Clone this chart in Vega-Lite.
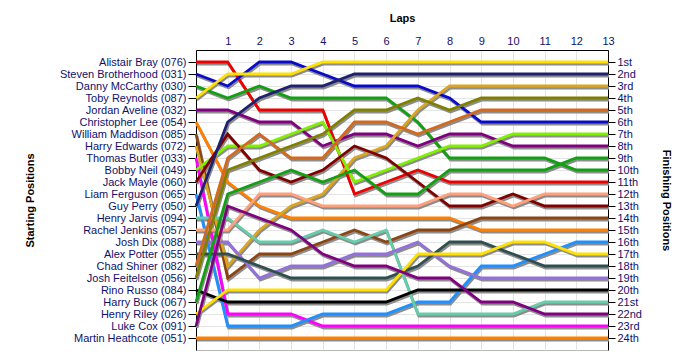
{
"$schema":"https://vega.github.io/schema/vega-lite/v6.json",
"width":412,"height":300,
"autosize":"none",
"padding":{"left":196,"top":50,"right":92,"bottom":10},
"background":"white",
"config":{"view":{"stroke":"#b8b8b8"},"font":"Liberation Sans",
 "axis":{"domainColor":"black","tickColor":"black","labelFontSize":11,"labelColor":"#10106a","titleFontSize":11,"titleFontWeight":"bold","titleColor":"black","gridColor":"#e4e4e4"}},
"datasets":{"race":[
{"driver":"Alistair Bray (076)","lap":0,"pos":1},{"driver":"Alistair Bray (076)","lap":1,"pos":1},{"driver":"Alistair Bray (076)","lap":2,"pos":5},{"driver":"Alistair Bray (076)","lap":3,"pos":5},{"driver":"Alistair Bray (076)","lap":4,"pos":5},{"driver":"Alistair Bray (076)","lap":5,"pos":12},{"driver":"Alistair Bray (076)","lap":6,"pos":11},{"driver":"Alistair Bray (076)","lap":7,"pos":10},{"driver":"Alistair Bray (076)","lap":8,"pos":11},{"driver":"Alistair Bray (076)","lap":9,"pos":11},{"driver":"Alistair Bray (076)","lap":10,"pos":11},{"driver":"Alistair Bray (076)","lap":11,"pos":11},{"driver":"Alistair Bray (076)","lap":12,"pos":11},{"driver":"Alistair Bray (076)","lap":13,"pos":11},
{"driver":"Steven Brotherhood (031)","lap":0,"pos":2},{"driver":"Steven Brotherhood (031)","lap":1,"pos":3},{"driver":"Steven Brotherhood (031)","lap":2,"pos":1},{"driver":"Steven Brotherhood (031)","lap":3,"pos":1},{"driver":"Steven Brotherhood (031)","lap":4,"pos":2},{"driver":"Steven Brotherhood (031)","lap":5,"pos":3},{"driver":"Steven Brotherhood (031)","lap":6,"pos":3},{"driver":"Steven Brotherhood (031)","lap":7,"pos":3},{"driver":"Steven Brotherhood (031)","lap":8,"pos":4},{"driver":"Steven Brotherhood (031)","lap":9,"pos":6},{"driver":"Steven Brotherhood (031)","lap":10,"pos":6},{"driver":"Steven Brotherhood (031)","lap":11,"pos":6},{"driver":"Steven Brotherhood (031)","lap":12,"pos":6},{"driver":"Steven Brotherhood (031)","lap":13,"pos":6},
{"driver":"Danny McCarthy (030)","lap":0,"pos":3},{"driver":"Danny McCarthy (030)","lap":1,"pos":4},{"driver":"Danny McCarthy (030)","lap":2,"pos":3},{"driver":"Danny McCarthy (030)","lap":3,"pos":4},{"driver":"Danny McCarthy (030)","lap":4,"pos":4},{"driver":"Danny McCarthy (030)","lap":5,"pos":4},{"driver":"Danny McCarthy (030)","lap":6,"pos":4},{"driver":"Danny McCarthy (030)","lap":7,"pos":6},{"driver":"Danny McCarthy (030)","lap":8,"pos":9},{"driver":"Danny McCarthy (030)","lap":9,"pos":9},{"driver":"Danny McCarthy (030)","lap":10,"pos":9},{"driver":"Danny McCarthy (030)","lap":11,"pos":9},{"driver":"Danny McCarthy (030)","lap":12,"pos":10},{"driver":"Danny McCarthy (030)","lap":13,"pos":10},
{"driver":"Toby Reynolds (087)","lap":0,"pos":4},{"driver":"Toby Reynolds (087)","lap":1,"pos":2},{"driver":"Toby Reynolds (087)","lap":2,"pos":2},{"driver":"Toby Reynolds (087)","lap":3,"pos":2},{"driver":"Toby Reynolds (087)","lap":4,"pos":1},{"driver":"Toby Reynolds (087)","lap":5,"pos":1},{"driver":"Toby Reynolds (087)","lap":6,"pos":1},{"driver":"Toby Reynolds (087)","lap":7,"pos":1},{"driver":"Toby Reynolds (087)","lap":8,"pos":1},{"driver":"Toby Reynolds (087)","lap":9,"pos":1},{"driver":"Toby Reynolds (087)","lap":10,"pos":1},{"driver":"Toby Reynolds (087)","lap":11,"pos":1},{"driver":"Toby Reynolds (087)","lap":12,"pos":1},{"driver":"Toby Reynolds (087)","lap":13,"pos":1},
{"driver":"Jordan Aveline (032)","lap":0,"pos":5},{"driver":"Jordan Aveline (032)","lap":1,"pos":5},{"driver":"Jordan Aveline (032)","lap":2,"pos":6},{"driver":"Jordan Aveline (032)","lap":3,"pos":6},{"driver":"Jordan Aveline (032)","lap":4,"pos":8},{"driver":"Jordan Aveline (032)","lap":5,"pos":7},{"driver":"Jordan Aveline (032)","lap":6,"pos":7},{"driver":"Jordan Aveline (032)","lap":7,"pos":8},{"driver":"Jordan Aveline (032)","lap":8,"pos":7},{"driver":"Jordan Aveline (032)","lap":9,"pos":7},{"driver":"Jordan Aveline (032)","lap":10,"pos":8},{"driver":"Jordan Aveline (032)","lap":11,"pos":8},{"driver":"Jordan Aveline (032)","lap":12,"pos":8},{"driver":"Jordan Aveline (032)","lap":13,"pos":8},
{"driver":"Christopher Lee (054)","lap":0,"pos":6},{"driver":"Christopher Lee (054)","lap":1,"pos":11},{"driver":"Christopher Lee (054)","lap":2,"pos":13},{"driver":"Christopher Lee (054)","lap":3,"pos":14},{"driver":"Christopher Lee (054)","lap":4,"pos":14},{"driver":"Christopher Lee (054)","lap":5,"pos":14},{"driver":"Christopher Lee (054)","lap":6,"pos":14},{"driver":"Christopher Lee (054)","lap":7,"pos":14},{"driver":"Christopher Lee (054)","lap":8,"pos":14},{"driver":"Christopher Lee (054)","lap":9,"pos":15},{"driver":"Christopher Lee (054)","lap":10,"pos":15},{"driver":"Christopher Lee (054)","lap":11,"pos":15},{"driver":"Christopher Lee (054)","lap":12,"pos":15},{"driver":"Christopher Lee (054)","lap":13,"pos":15},
{"driver":"William Maddison (085)","lap":0,"pos":7},{"driver":"William Maddison (085)","lap":1,"pos":19},{"driver":"William Maddison (085)","lap":2,"pos":17},{"driver":"William Maddison (085)","lap":3,"pos":17},{"driver":"William Maddison (085)","lap":4,"pos":16},{"driver":"William Maddison (085)","lap":5,"pos":15},{"driver":"William Maddison (085)","lap":6,"pos":16},{"driver":"William Maddison (085)","lap":7,"pos":15},{"driver":"William Maddison (085)","lap":8,"pos":15},{"driver":"William Maddison (085)","lap":9,"pos":14},{"driver":"William Maddison (085)","lap":10,"pos":14},{"driver":"William Maddison (085)","lap":11,"pos":14},{"driver":"William Maddison (085)","lap":12,"pos":14},{"driver":"William Maddison (085)","lap":13,"pos":14},
{"driver":"Harry Edwards (072)","lap":0,"pos":8},{"driver":"Harry Edwards (072)","lap":1,"pos":18},{"driver":"Harry Edwards (072)","lap":2,"pos":15},{"driver":"Harry Edwards (072)","lap":3,"pos":13},{"driver":"Harry Edwards (072)","lap":4,"pos":12},{"driver":"Harry Edwards (072)","lap":5,"pos":9},{"driver":"Harry Edwards (072)","lap":6,"pos":8},{"driver":"Harry Edwards (072)","lap":7,"pos":5},{"driver":"Harry Edwards (072)","lap":8,"pos":3},{"driver":"Harry Edwards (072)","lap":9,"pos":3},{"driver":"Harry Edwards (072)","lap":10,"pos":3},{"driver":"Harry Edwards (072)","lap":11,"pos":3},{"driver":"Harry Edwards (072)","lap":12,"pos":3},{"driver":"Harry Edwards (072)","lap":13,"pos":3},
{"driver":"Thomas Butler (033)","lap":0,"pos":9},{"driver":"Thomas Butler (033)","lap":1,"pos":22},{"driver":"Thomas Butler (033)","lap":2,"pos":22},{"driver":"Thomas Butler (033)","lap":3,"pos":22},{"driver":"Thomas Butler (033)","lap":4,"pos":23},{"driver":"Thomas Butler (033)","lap":5,"pos":23},{"driver":"Thomas Butler (033)","lap":6,"pos":23},{"driver":"Thomas Butler (033)","lap":7,"pos":23},{"driver":"Thomas Butler (033)","lap":8,"pos":23},{"driver":"Thomas Butler (033)","lap":9,"pos":23},{"driver":"Thomas Butler (033)","lap":10,"pos":23},{"driver":"Thomas Butler (033)","lap":11,"pos":23},{"driver":"Thomas Butler (033)","lap":12,"pos":23},{"driver":"Thomas Butler (033)","lap":13,"pos":23},
{"driver":"Bobby Neil (049)","lap":0,"pos":10},{"driver":"Bobby Neil (049)","lap":1,"pos":8},{"driver":"Bobby Neil (049)","lap":2,"pos":8},{"driver":"Bobby Neil (049)","lap":3,"pos":7},{"driver":"Bobby Neil (049)","lap":4,"pos":6},{"driver":"Bobby Neil (049)","lap":5,"pos":11},{"driver":"Bobby Neil (049)","lap":6,"pos":10},{"driver":"Bobby Neil (049)","lap":7,"pos":9},{"driver":"Bobby Neil (049)","lap":8,"pos":8},{"driver":"Bobby Neil (049)","lap":9,"pos":8},{"driver":"Bobby Neil (049)","lap":10,"pos":7},{"driver":"Bobby Neil (049)","lap":11,"pos":7},{"driver":"Bobby Neil (049)","lap":12,"pos":7},{"driver":"Bobby Neil (049)","lap":13,"pos":7},
{"driver":"Jack Mayle (060)","lap":0,"pos":11},{"driver":"Jack Mayle (060)","lap":1,"pos":7},{"driver":"Jack Mayle (060)","lap":2,"pos":10},{"driver":"Jack Mayle (060)","lap":3,"pos":11},{"driver":"Jack Mayle (060)","lap":4,"pos":10},{"driver":"Jack Mayle (060)","lap":5,"pos":8},{"driver":"Jack Mayle (060)","lap":6,"pos":9},{"driver":"Jack Mayle (060)","lap":7,"pos":11},{"driver":"Jack Mayle (060)","lap":8,"pos":13},{"driver":"Jack Mayle (060)","lap":9,"pos":13},{"driver":"Jack Mayle (060)","lap":10,"pos":12},{"driver":"Jack Mayle (060)","lap":11,"pos":13},{"driver":"Jack Mayle (060)","lap":12,"pos":13},{"driver":"Jack Mayle (060)","lap":13,"pos":13},
{"driver":"Liam Ferguson (065)","lap":0,"pos":12},{"driver":"Liam Ferguson (065)","lap":1,"pos":23},{"driver":"Liam Ferguson (065)","lap":2,"pos":23},{"driver":"Liam Ferguson (065)","lap":3,"pos":23},{"driver":"Liam Ferguson (065)","lap":4,"pos":22},{"driver":"Liam Ferguson (065)","lap":5,"pos":22},{"driver":"Liam Ferguson (065)","lap":6,"pos":22},{"driver":"Liam Ferguson (065)","lap":7,"pos":21},{"driver":"Liam Ferguson (065)","lap":8,"pos":21},{"driver":"Liam Ferguson (065)","lap":9,"pos":18},{"driver":"Liam Ferguson (065)","lap":10,"pos":18},{"driver":"Liam Ferguson (065)","lap":11,"pos":17},{"driver":"Liam Ferguson (065)","lap":12,"pos":16},{"driver":"Liam Ferguson (065)","lap":13,"pos":16},
{"driver":"Guy Perry (050)","lap":0,"pos":13},{"driver":"Guy Perry (050)","lap":1,"pos":6},{"driver":"Guy Perry (050)","lap":2,"pos":4},{"driver":"Guy Perry (050)","lap":3,"pos":3},{"driver":"Guy Perry (050)","lap":4,"pos":3},{"driver":"Guy Perry (050)","lap":5,"pos":2},{"driver":"Guy Perry (050)","lap":6,"pos":2},{"driver":"Guy Perry (050)","lap":7,"pos":2},{"driver":"Guy Perry (050)","lap":8,"pos":2},{"driver":"Guy Perry (050)","lap":9,"pos":2},{"driver":"Guy Perry (050)","lap":10,"pos":2},{"driver":"Guy Perry (050)","lap":11,"pos":2},{"driver":"Guy Perry (050)","lap":12,"pos":2},{"driver":"Guy Perry (050)","lap":13,"pos":2},
{"driver":"Henry Jarvis (094)","lap":0,"pos":14},{"driver":"Henry Jarvis (094)","lap":1,"pos":14},{"driver":"Henry Jarvis (094)","lap":2,"pos":16},{"driver":"Henry Jarvis (094)","lap":3,"pos":16},{"driver":"Henry Jarvis (094)","lap":4,"pos":15},{"driver":"Henry Jarvis (094)","lap":5,"pos":16},{"driver":"Henry Jarvis (094)","lap":6,"pos":15},{"driver":"Henry Jarvis (094)","lap":7,"pos":22},{"driver":"Henry Jarvis (094)","lap":8,"pos":22},{"driver":"Henry Jarvis (094)","lap":9,"pos":22},{"driver":"Henry Jarvis (094)","lap":10,"pos":22},{"driver":"Henry Jarvis (094)","lap":11,"pos":21},{"driver":"Henry Jarvis (094)","lap":12,"pos":21},{"driver":"Henry Jarvis (094)","lap":13,"pos":21},
{"driver":"Rachel Jenkins (057)","lap":0,"pos":15},{"driver":"Rachel Jenkins (057)","lap":1,"pos":15},{"driver":"Rachel Jenkins (057)","lap":2,"pos":12},{"driver":"Rachel Jenkins (057)","lap":3,"pos":12},{"driver":"Rachel Jenkins (057)","lap":4,"pos":13},{"driver":"Rachel Jenkins (057)","lap":5,"pos":13},{"driver":"Rachel Jenkins (057)","lap":6,"pos":13},{"driver":"Rachel Jenkins (057)","lap":7,"pos":13},{"driver":"Rachel Jenkins (057)","lap":8,"pos":12},{"driver":"Rachel Jenkins (057)","lap":9,"pos":12},{"driver":"Rachel Jenkins (057)","lap":10,"pos":13},{"driver":"Rachel Jenkins (057)","lap":11,"pos":12},{"driver":"Rachel Jenkins (057)","lap":12,"pos":12},{"driver":"Rachel Jenkins (057)","lap":13,"pos":12},
{"driver":"Josh Dix (088)","lap":0,"pos":16},{"driver":"Josh Dix (088)","lap":1,"pos":16},{"driver":"Josh Dix (088)","lap":2,"pos":19},{"driver":"Josh Dix (088)","lap":3,"pos":18},{"driver":"Josh Dix (088)","lap":4,"pos":18},{"driver":"Josh Dix (088)","lap":5,"pos":17},{"driver":"Josh Dix (088)","lap":6,"pos":17},{"driver":"Josh Dix (088)","lap":7,"pos":16},{"driver":"Josh Dix (088)","lap":8,"pos":18},{"driver":"Josh Dix (088)","lap":9,"pos":19},{"driver":"Josh Dix (088)","lap":10,"pos":19},{"driver":"Josh Dix (088)","lap":11,"pos":19},{"driver":"Josh Dix (088)","lap":12,"pos":19},{"driver":"Josh Dix (088)","lap":13,"pos":19},
{"driver":"Alex Potter (055)","lap":0,"pos":17},{"driver":"Alex Potter (055)","lap":1,"pos":17},{"driver":"Alex Potter (055)","lap":2,"pos":18},{"driver":"Alex Potter (055)","lap":3,"pos":19},{"driver":"Alex Potter (055)","lap":4,"pos":19},{"driver":"Alex Potter (055)","lap":5,"pos":19},{"driver":"Alex Potter (055)","lap":6,"pos":19},{"driver":"Alex Potter (055)","lap":7,"pos":18},{"driver":"Alex Potter (055)","lap":8,"pos":16},{"driver":"Alex Potter (055)","lap":9,"pos":16},{"driver":"Alex Potter (055)","lap":10,"pos":17},{"driver":"Alex Potter (055)","lap":11,"pos":18},{"driver":"Alex Potter (055)","lap":12,"pos":18},{"driver":"Alex Potter (055)","lap":13,"pos":18},
{"driver":"Chad Shiner (082)","lap":0,"pos":18},{"driver":"Chad Shiner (082)","lap":1,"pos":9},{"driver":"Chad Shiner (082)","lap":2,"pos":7},{"driver":"Chad Shiner (082)","lap":3,"pos":9},{"driver":"Chad Shiner (082)","lap":4,"pos":9},{"driver":"Chad Shiner (082)","lap":5,"pos":6},{"driver":"Chad Shiner (082)","lap":6,"pos":6},{"driver":"Chad Shiner (082)","lap":7,"pos":7},{"driver":"Chad Shiner (082)","lap":8,"pos":6},{"driver":"Chad Shiner (082)","lap":9,"pos":5},{"driver":"Chad Shiner (082)","lap":10,"pos":5},{"driver":"Chad Shiner (082)","lap":11,"pos":5},{"driver":"Chad Shiner (082)","lap":12,"pos":5},{"driver":"Chad Shiner (082)","lap":13,"pos":5},
{"driver":"Josh Feitelson (056)","lap":0,"pos":19},{"driver":"Josh Feitelson (056)","lap":1,"pos":10},{"driver":"Josh Feitelson (056)","lap":2,"pos":9},{"driver":"Josh Feitelson (056)","lap":3,"pos":8},{"driver":"Josh Feitelson (056)","lap":4,"pos":7},{"driver":"Josh Feitelson (056)","lap":5,"pos":5},{"driver":"Josh Feitelson (056)","lap":6,"pos":5},{"driver":"Josh Feitelson (056)","lap":7,"pos":4},{"driver":"Josh Feitelson (056)","lap":8,"pos":5},{"driver":"Josh Feitelson (056)","lap":9,"pos":4},{"driver":"Josh Feitelson (056)","lap":10,"pos":4},{"driver":"Josh Feitelson (056)","lap":11,"pos":4},{"driver":"Josh Feitelson (056)","lap":12,"pos":4},{"driver":"Josh Feitelson (056)","lap":13,"pos":4},
{"driver":"Rino Russo (084)","lap":0,"pos":20},{"driver":"Rino Russo (084)","lap":1,"pos":21},{"driver":"Rino Russo (084)","lap":2,"pos":21},{"driver":"Rino Russo (084)","lap":3,"pos":21},{"driver":"Rino Russo (084)","lap":4,"pos":21},{"driver":"Rino Russo (084)","lap":5,"pos":21},{"driver":"Rino Russo (084)","lap":6,"pos":21},{"driver":"Rino Russo (084)","lap":7,"pos":20},{"driver":"Rino Russo (084)","lap":8,"pos":20},{"driver":"Rino Russo (084)","lap":9,"pos":20},{"driver":"Rino Russo (084)","lap":10,"pos":20},{"driver":"Rino Russo (084)","lap":11,"pos":20},{"driver":"Rino Russo (084)","lap":12,"pos":20},{"driver":"Rino Russo (084)","lap":13,"pos":20},
{"driver":"Harry Buck (067)","lap":0,"pos":21},{"driver":"Harry Buck (067)","lap":1,"pos":12},{"driver":"Harry Buck (067)","lap":2,"pos":11},{"driver":"Harry Buck (067)","lap":3,"pos":10},{"driver":"Harry Buck (067)","lap":4,"pos":11},{"driver":"Harry Buck (067)","lap":5,"pos":10},{"driver":"Harry Buck (067)","lap":6,"pos":12},{"driver":"Harry Buck (067)","lap":7,"pos":12},{"driver":"Harry Buck (067)","lap":8,"pos":10},{"driver":"Harry Buck (067)","lap":9,"pos":10},{"driver":"Harry Buck (067)","lap":10,"pos":10},{"driver":"Harry Buck (067)","lap":11,"pos":10},{"driver":"Harry Buck (067)","lap":12,"pos":9},{"driver":"Harry Buck (067)","lap":13,"pos":9},
{"driver":"Henry Riley (026)","lap":0,"pos":22},{"driver":"Henry Riley (026)","lap":1,"pos":20},{"driver":"Henry Riley (026)","lap":2,"pos":20},{"driver":"Henry Riley (026)","lap":3,"pos":20},{"driver":"Henry Riley (026)","lap":4,"pos":20},{"driver":"Henry Riley (026)","lap":5,"pos":20},{"driver":"Henry Riley (026)","lap":6,"pos":20},{"driver":"Henry Riley (026)","lap":7,"pos":17},{"driver":"Henry Riley (026)","lap":8,"pos":17},{"driver":"Henry Riley (026)","lap":9,"pos":17},{"driver":"Henry Riley (026)","lap":10,"pos":16},{"driver":"Henry Riley (026)","lap":11,"pos":16},{"driver":"Henry Riley (026)","lap":12,"pos":17},{"driver":"Henry Riley (026)","lap":13,"pos":17},
{"driver":"Luke Cox (091)","lap":0,"pos":23},{"driver":"Luke Cox (091)","lap":1,"pos":13},{"driver":"Luke Cox (091)","lap":2,"pos":14},{"driver":"Luke Cox (091)","lap":3,"pos":15},{"driver":"Luke Cox (091)","lap":4,"pos":17},{"driver":"Luke Cox (091)","lap":5,"pos":18},{"driver":"Luke Cox (091)","lap":6,"pos":18},{"driver":"Luke Cox (091)","lap":7,"pos":19},{"driver":"Luke Cox (091)","lap":8,"pos":19},{"driver":"Luke Cox (091)","lap":9,"pos":21},{"driver":"Luke Cox (091)","lap":10,"pos":21},{"driver":"Luke Cox (091)","lap":11,"pos":22},{"driver":"Luke Cox (091)","lap":12,"pos":22},{"driver":"Luke Cox (091)","lap":13,"pos":22},
{"driver":"Martin Heathcote (051)","lap":0,"pos":24},{"driver":"Martin Heathcote (051)","lap":1,"pos":24},{"driver":"Martin Heathcote (051)","lap":2,"pos":24},{"driver":"Martin Heathcote (051)","lap":3,"pos":24},{"driver":"Martin Heathcote (051)","lap":4,"pos":24},{"driver":"Martin Heathcote (051)","lap":5,"pos":24},{"driver":"Martin Heathcote (051)","lap":6,"pos":24},{"driver":"Martin Heathcote (051)","lap":7,"pos":24},{"driver":"Martin Heathcote (051)","lap":8,"pos":24},{"driver":"Martin Heathcote (051)","lap":9,"pos":24},{"driver":"Martin Heathcote (051)","lap":10,"pos":24},{"driver":"Martin Heathcote (051)","lap":11,"pos":24},{"driver":"Martin Heathcote (051)","lap":12,"pos":24},{"driver":"Martin Heathcote (051)","lap":13,"pos":24}
]},
"data":{"name":"race"},
"encoding":{
 "x":{"field":"lap","type":"quantitative","scale":{"domain":[0,13],"nice":false,"zero":false},
  "axis":{"orient":"top","title":"Laps","values":[0,1,2,3,4,5,6,7,8,9,10,11,12,13],"labelExpr":"datum.value==0?'':datum.label","tickSize":0,"labelPadding":4,"labelFlush":false,"grid":true,"titleY":-29,"titleBaseline":"alphabetic"}}
},
"layer":[
 {"mark":{"type":"line","color":"#8c8c8c","strokeWidth":2.8,"xOffset":1,"yOffset":2},
  "encoding":{
   "detail":{"field":"driver"},
   "y":{"field":"pos","type":"quantitative","scale":{"domain":[0,25],"reverse":true,"nice":false,"zero":false},
    "axis":{"orient":"left","values":[1,2,3,4,5,6,7,8,9,10,11,12,13,14,15,16,17,18,19,20,21,22,23,24],"grid":true,"tickSize":8,"labelPadding":2,
     "labelExpr":"['Alistair Bray (076)','Steven Brotherhood (031)','Danny McCarthy (030)','Toby Reynolds (087)','Jordan Aveline (032)','Christopher Lee (054)','William Maddison (085)','Harry Edwards (072)','Thomas Butler (033)','Bobby Neil (049)','Jack Mayle (060)','Liam Ferguson (065)','Guy Perry (050)','Henry Jarvis (094)','Rachel Jenkins (057)','Josh Dix (088)','Alex Potter (055)','Chad Shiner (082)','Josh Feitelson (056)','Rino Russo (084)','Harry Buck (067)','Henry Riley (026)','Luke Cox (091)','Martin Heathcote (051)'][datum.value-1]",
     "title":"Starting Positions","titleAngle":-90,"titleX":-166,"titleY":150,"titleAlign":"center","titleBaseline":"middle"}}}},
 {"mark":{"type":"line","strokeWidth":2.8},
  "encoding":{
   "color":{"field":"driver","type":"nominal","legend":null,
    "scale":{"domain":["Alistair Bray (076)","Steven Brotherhood (031)","Danny McCarthy (030)","Toby Reynolds (087)","Jordan Aveline (032)","Christopher Lee (054)","William Maddison (085)","Harry Edwards (072)","Thomas Butler (033)","Bobby Neil (049)","Jack Mayle (060)","Liam Ferguson (065)","Guy Perry (050)","Henry Jarvis (094)","Rachel Jenkins (057)","Josh Dix (088)","Alex Potter (055)","Chad Shiner (082)","Josh Feitelson (056)","Rino Russo (084)","Harry Buck (067)","Henry Riley (026)","Luke Cox (091)","Martin Heathcote (051)"],
     "range":["#ee0000","#0a0acc","#12a012","#ffe000","#800080","#ff8000","#8b4513","#daa520","#ff00ff","#80f000","#800000","#1e90ff","#202070","#66cdaa","#ffa07a","#9370db","#2f4f4f","#d2691e","#808000","#000000","#12a012","#ffe000","#800080","#ff8000"]}},
   "y":{"field":"pos","type":"quantitative","scale":{"domain":[0,25],"reverse":true,"nice":false,"zero":false},
    "axis":{"orient":"right","values":[1,2,3,4,5,6,7,8,9,10,11,12,13,14,15,16,17,18,19,20,21,22,23,24],"grid":false,"tickSize":7,"labelPadding":2,
     "labelExpr":"datum.value + ((datum.value==1||datum.value==21)?'st':(datum.value==2||datum.value==22)?'nd':(datum.value==3||datum.value==23)?'rd':'th')",
     "title":"Finishing Positions","titleAngle":90,"titleX":57,"titleY":150,"titleAlign":"center","titleBaseline":"middle"}}}}
],
"resolve":{"axis":{"y":"independent"}}
}
